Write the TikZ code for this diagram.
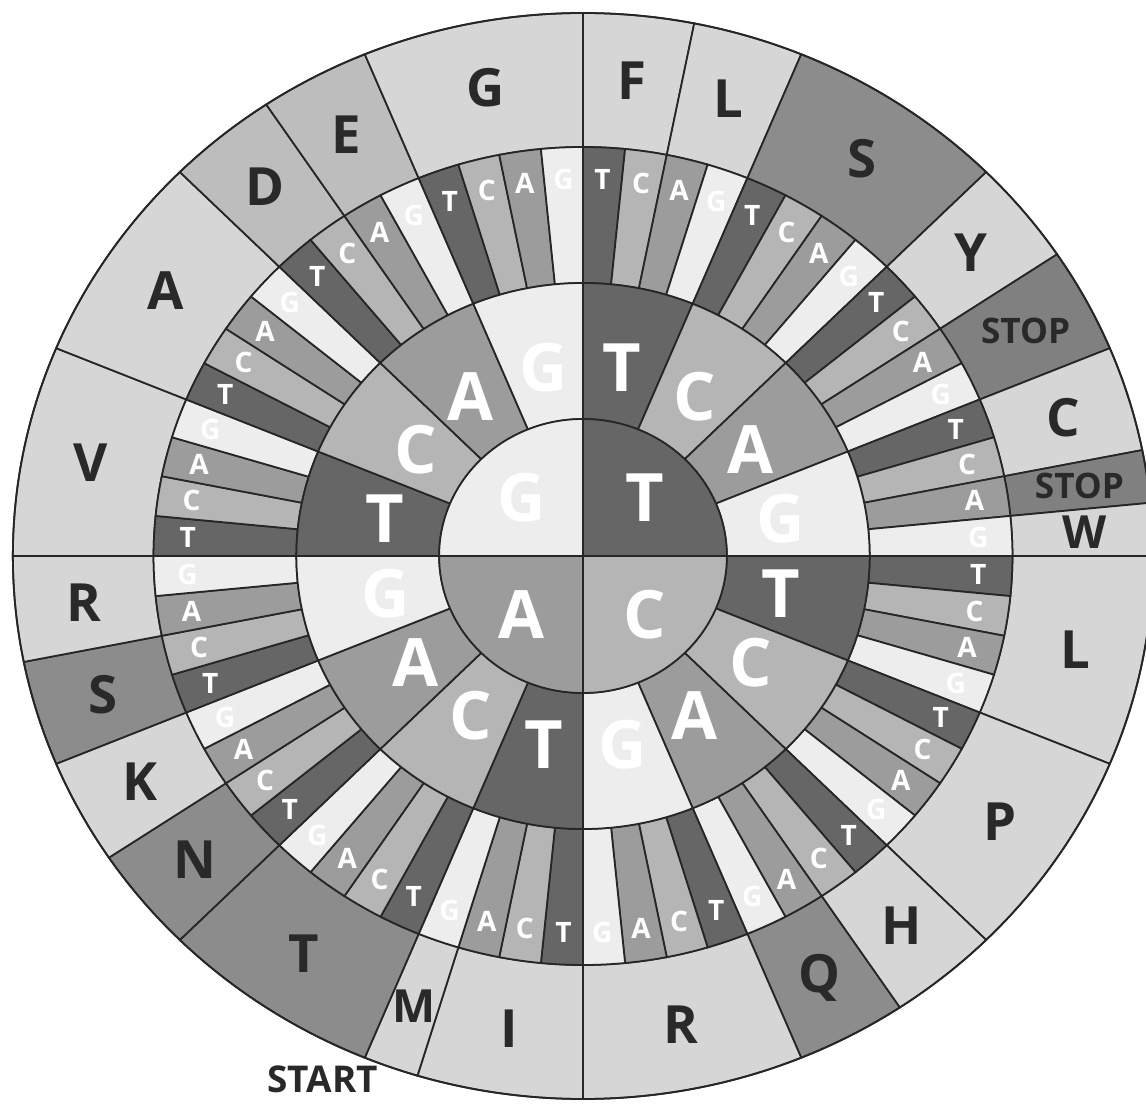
\documentclass[tikz,border=0pt]{standalone}
\usepackage{fontspec}
\setmainfont{Open Sans}
\usepackage{tikz}

\definecolor{baseT}{gray}{0.40}
\definecolor{baseC}{gray}{0.71}
\definecolor{baseA}{gray}{0.61}
\definecolor{baseG}{gray}{0.93}
\definecolor{aaL}{gray}{0.84}
\definecolor{aaM}{gray}{0.74}
\definecolor{aaD}{gray}{0.55}
\definecolor{aaS}{gray}{0.50}
\definecolor{ink}{gray}{0.16}

\tikzset{
  seg/.style={draw=black!85,line width=1pt},
  base node/.style={text=white,font=\fontsize{38}{38}\selectfont\bfseries,inner sep=0pt},
  codon node/.style={text=white,font=\fontsize{16}{16}\selectfont\bfseries,inner sep=0pt},
  amino node/.style={text=ink,inner sep=0pt}
}

% ring piece: colour, from angle, to angle, inner radius, outer radius
\newcommand{\ringpart}[5]{%
  \filldraw[seg,fill=#1] (#2:#4) arc[start angle=#2,end angle=#3,radius=#4]
    -- (#3:#5) arc[start angle=#3,end angle=#2,radius=#5] -- cycle;}

\begin{document}
\begin{tikzpicture}[xscale=1.05]
\useasboundingbox (-11.105,-10.98) rectangle (10.724,11.12);

% amino acids
\foreach \s/\e/\n/\c/\f [count=\k] in {
  90/78.75/F/aaL/30, 78.75/67.5/L/aaL/30, 67.5/45/S/aaD/30,
  45/33.75/Y/aaL/30, 33.75/22.5/STOP/aaS/20, 22.5/11.25/C/aaL/30,
  11.25/5.625/STOP/aaS/20, 5.625/0/W/aaL/26, 0/-22.5/L/aaL/30,
  -22.5/-45/P/aaL/30, -45/-56.25/H/aaL/30, -56.25/-67.5/Q/aaD/30,
  -67.5/-90/R/aaL/30, -90/-106.875/I/aaL/30, -106.875/-112.5/M/aaL/26,
  -112.5/-135/T/aaD/30, -135/-146.25/N/aaD/30, -146.25/-157.5/K/aaL/30,
  -157.5/-168.75/S/aaD/30, -168.75/-180/R/aaL/30, 180/157.5/V/aaL/30,
  157.5/135/A/aaL/30, 135/123.75/D/aaM/30, 123.75/112.5/E/aaM/30,
  112.5/90/G/aaL/30}{
  \ringpart{\c}{\s}{\e}{8.18}{10.86}
  \pgfmathsetmacro\m{(\s+\e)/2}
  \node[amino node,font=\fontsize{\f}{\f}\selectfont\bfseries] (aa-\k) at (\m:9.56) {\n};
}

% third base
\foreach \b [count=\i from 0] in {T,C,A,G}
  \foreach \c [count=\j from 0] in {T,C,A,G}
    \foreach \d [count=\l from 0] in {T,C,A,G}{
      \pgfmathsetmacro\s{90-90*\i-22.5*\j-5.625*\l}
      \pgfmathsetmacro\e{\s-5.625}
      \ringpart{base\d}{\s}{\e}{5.46}{8.18}
    }

% second base
\foreach \b [count=\i from 0] in {T,C,A,G}
  \foreach \c [count=\j from 0] in {T,C,A,G}{
    \pgfmathsetmacro\s{90-90*\i-22.5*\j}
    \pgfmathsetmacro\e{\s-22.5}
    \ringpart{base\c}{\s}{\e}{2.74}{5.46}
  }

% first base
\foreach \b [count=\i from 0] in {T,C,A,G}{
  \pgfmathsetmacro\s{90-90*\i}
  \pgfmathsetmacro\e{\s-90}
  \filldraw[seg,fill=base\b] (0,0) -- (\s:2.74) arc[start angle=\s,end angle=\e,radius=2.74] -- cycle;
}

% letters
\foreach \b [count=\i from 0] in {T,C,A,G}{
  \pgfmathsetmacro\m{45-90*\i}
  \node[base node] (b1-\b) at (\m:1.66) {\b};
  \foreach \c [count=\j from 0] in {T,C,A,G}{
    \pgfmathsetmacro\m{78.75-90*\i-22.5*\j}
    \node[base node] (b2-\b\c) at (\m:3.84) {\c};
    \foreach \d [count=\l from 0] in {T,C,A,G}{
      \pgfmathsetmacro\m{87.1875-90*\i-22.5*\j-5.625*\l}
      \node[codon node] (b3-\b\c\d) at (\m:7.54) {\d};
    }
  }
}

\draw[seg] (0,0) circle (10.86);
\node[amino node,font=\fontsize{21}{21}\selectfont\bfseries,text depth=0pt,anchor=base] (start) at (-4.96,-10.74) {START};
\end{tikzpicture}
\end{document}
